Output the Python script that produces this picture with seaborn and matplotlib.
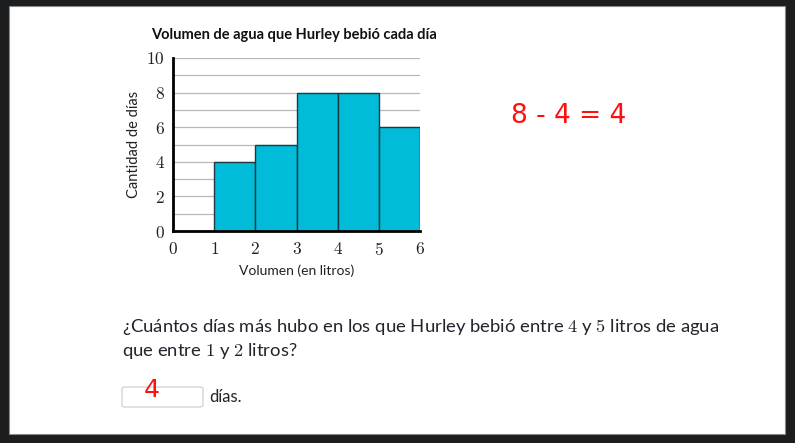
import numpy as np
import pandas as pd
import seaborn as sns
import matplotlib.pyplot as plt
from matplotlib.patches import Rectangle, FancyBboxPatch

# Data
bin_edges = [0, 1, 2, 3, 4, 5, 6]
bin_mids = [0.5, 1.5, 2.5, 3.5, 4.5, 5.5]
days = [0, 4, 5, 8, 8, 6]
y_ticks = [0, 2, 4, 6, 8, 10]
x_ticks = [0, 1, 2, 3, 4, 5, 6]
grid_levels = [1, 2, 3, 4, 5, 6, 7, 8, 9, 10]

df = pd.DataFrame({"volumen": bin_mids, "dias": days})

sns.set_theme(style="white")
plt.rcParams['font.family'] = ['Lato', 'DejaVu Sans']
plt.rcParams['mathtext.fontset'] = 'cm'

W, H = 795, 443
fig = plt.figure(figsize=(W / 100, H / 100), dpi=100, facecolor="#1c1d1f")

# white page area
fig.patches.append(Rectangle((9 / W, 1 - 434 / H), 776 / W, 428 / H,
                             transform=fig.transFigure, facecolor="white",
                             edgecolor="#8a8a8a", linewidth=0.8, zorder=-5))

ax = fig.add_axes([173 / W, 1 - 231 / H, 247 / W, 173 / H])
ax.set_zorder(2)
ax.set_facecolor("none")

sns.histplot(data=df, x="volumen", weights="dias", bins=bin_edges, ax=ax,
             color="#00bcd8", alpha=1, edgecolor="#1b3b42", linewidth=1.0,
             zorder=3)

ax.set_xlim(0, 6)
ax.set_ylim(0, 10)
ax.hlines(grid_levels, 0, 6, color="#b8b8b8", lw=0.9, zorder=1)

ax.set_xticks(x_ticks)
ax.set_yticks(y_ticks)
ax.set_xticklabels([f"${t}$" for t in x_ticks], fontsize=12.5)
ax.set_yticklabels([f"${t}$" for t in y_ticks], fontsize=12.5)
ax.tick_params(axis="x", direction="inout", length=6, width=1.5, pad=4)
ax.tick_params(axis="y", direction="out", length=0, pad=6)
ax.tick_params(labelcolor="#222222", color="black")

sns.despine(ax=ax)
for side in ["left", "bottom"]:
    ax.spines[side].set_linewidth(2)
    ax.spines[side].set_color("black")
    ax.spines[side].set_zorder(5)

ax.set_xlabel("Volumen (en litros)", fontsize=10, color="#222222", labelpad=5)
ax.set_ylabel("Cantidad de días", fontsize=10.5, color="#222222", labelpad=4)
ax.set_title("Volumen de agua que Hurley bebió cada día", fontsize=10.5,
             fontweight="bold", color="#111111", pad=14, x=0.488)

# handwritten note
fig.text(511 / W, 1 - 116 / H, "8 - 4 = 4", color="#ff1010", fontsize=19,
         va="center", ha="left", family=["DejaVu Sans"])

# question
qcol = "#21242c"
fig.text(122 / W, 1 - 327 / H,
         "¿Cuántos días más hubo en los que Hurley bebió entre $4$ y $5$ litros de agua",
         fontsize=13.3, color=qcol, va="center", ha="left")
fig.text(122 / W, 1 - 351 / H, "que entre $1$ y $2$ litros?",
         fontsize=13.3, color=qcol, va="center", ha="left")

# answer box
fig.patches.append(FancyBboxPatch((122 / W, 1 - 407 / H), 81 / W, 20 / H,
                                  boxstyle="round,pad=0,rounding_size=0.004",
                                  transform=fig.transFigure, facecolor="white",
                                  edgecolor="#d0d0d0", linewidth=0.9))
fig.text(152 / W, 1 - 390 / H, "4", color="#ff1010", fontsize=18,
         va="center", ha="center", family=["DejaVu Sans"])
fig.text(209 / W, 1 - 397 / H, "días.", fontsize=12, color=qcol,
         va="center", ha="left")

fig.savefig("out.png", dpi=100, facecolor=fig.get_facecolor())
